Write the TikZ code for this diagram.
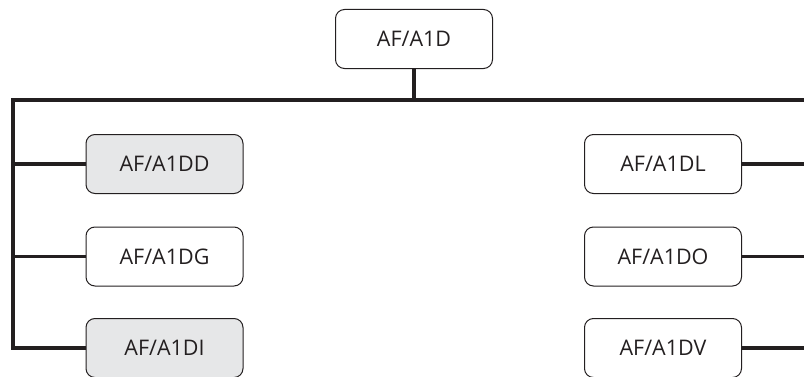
\documentclass[tikz,border=0pt]{standalone}
\usepackage{fontspec}
\setmainfont{Open Sans}
\definecolor{ink}{HTML}{231F20}
\definecolor{boxgray}{HTML}{E6E7E8}
\begin{document}
\begin{tikzpicture}[x=1pt,y=1pt,
  unit/.style={draw=ink, line width=1pt, rounded corners=9pt, minimum width=157pt, minimum height=59pt, inner sep=0pt, text=ink, font=\fontsize{21.5}{25}\selectfont},
  shaded/.style={unit, fill=boxgray},
  bus/.style={draw=ink, line width=3.2pt}]
\useasboundingbox (0,0) rectangle (804,376);
\node[unit] (top) at (414,337) {AF/A1D};
\node[shaded] (dd) at (164.5,212) {AF/A1DD};
\node[unit] (dg) at (164.5,119.5) {AF/A1DG};
\node[shaded] (di) at (164.5,28) {AF/A1DI};
\node[unit] (dl) at (663,212) {AF/A1DL};
\node[unit] (do) at (663,119.5) {AF/A1DO};
\node[unit] (dv) at (663,28) {AF/A1DV};
\coordinate (busR) at (804,276);
\coordinate (busL) at (13,276);
\coordinate (busM) at (414,276);
\draw[bus] (top.south) -- (busM);
\draw[bus] (busR) -- (busL) |- (di.west);
\draw[bus] (dd.west) -- (dd.west -| busL);
\draw[bus] (dg.west) -- (dg.west -| busL);
\draw[bus] (dl.east) -- (dl.east -| busR);
\draw[bus] (do.east) -- (do.east -| busR);
\draw[bus] (dv.east) -- (dv.east -| busR);
\end{tikzpicture}
\end{document}
